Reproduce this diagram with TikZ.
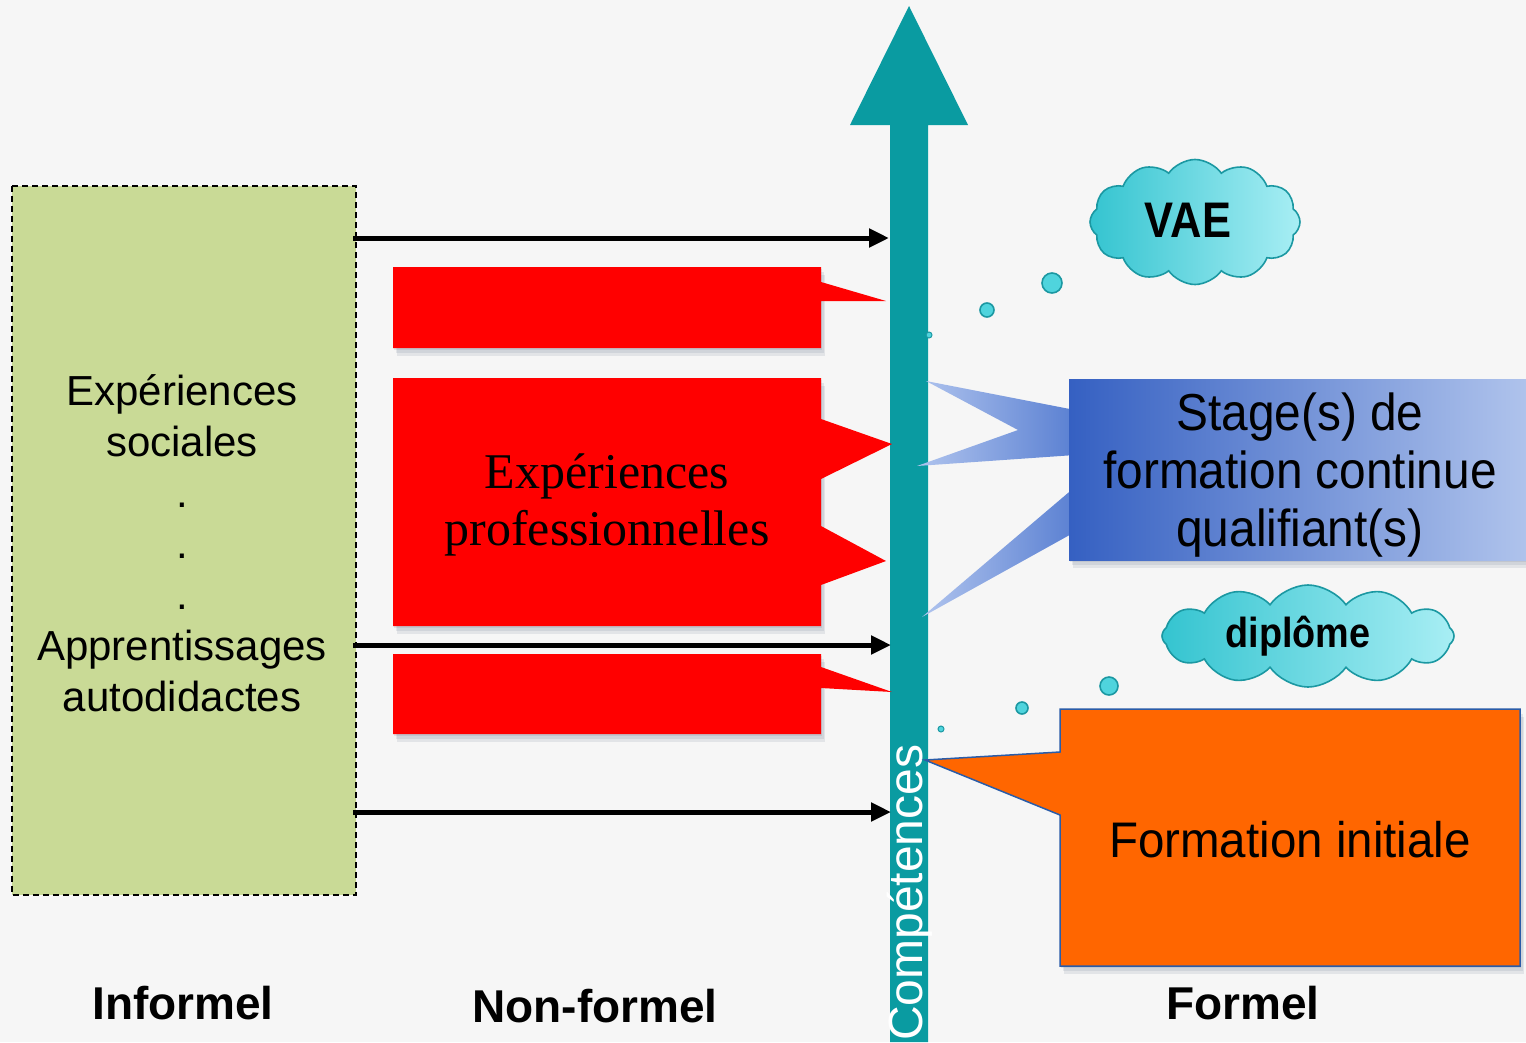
\documentclass[tikz,border=0pt]{standalone}
\usepackage{fontspec}
\setmainfont{Liberation Sans}
\newfontfamily\serifb{Liberation Serif}
\usetikzlibrary{arrows.meta,shapes.symbols}
\definecolor{bgc}{HTML}{F6F6F6}
\definecolor{tealc}{HTML}{0A9BA1}
\definecolor{greenc}{HTML}{C9DA96}
\definecolor{orangec}{HTML}{FF6600}
\definecolor{orangeb}{HTML}{2A5CA8}
\definecolor{blueL}{HTML}{3560C2}
\definecolor{blueR}{HTML}{AFC3EC}
\definecolor{ptrL}{HTML}{B0C4EE}
\definecolor{ptrR}{HTML}{5A80D2}
\definecolor{cloudL}{HTML}{34C4D0}
\definecolor{cloudR}{HTML}{A8EEF4}
\definecolor{cloudB}{HTML}{1B98A2}
\definecolor{bubc}{HTML}{4FD4DD}
\definecolor{shadc}{HTML}{3A4A6A}
\tikzset{
  blackarrow/.style={line width=5pt,-{Triangle[length=20pt,width=18pt]}},
  redbox/.style={fill=red},
  shadowbox/.style={fill=shadc,opacity=0.10},
  cloudnode/.style={cloud, cloud puffs=12, cloud puff arc=110, draw=cloudB, line width=1.6pt,
    left color=cloudL, right color=cloudR, inner sep=0pt},
  bubble/.style={fill=bubc, draw=cloudB, line width=1.6pt},
  bottomlabel/.style={font=\bfseries\fontsize{46}{46}\selectfont, inner sep=0pt},
}
\begin{document}
\begin{tikzpicture}[x=1pt,y=-1pt]
\fill[bgc] (0,0) rectangle (1526,1042);
\useasboundingbox (0,0) rectangle (1526,1042);

% informal box
\draw[fill=greenc, line width=1.5pt, dash pattern=on 6pt off 4pt] (12,186) rectangle (356,895);
\node[align=center, inner sep=0pt, font=\fontsize{42}{51}\selectfont] (inf) at (182,543)
  {Expériences\\sociales\\.\\.\\.\\Apprentissages\\autodidactes};

% shaft of competences
\fill[tealc] (890,1042) -- (890,125) -- (850,125) -- (909,6) -- (968,125) -- (928,125) -- (928,1042) -- cycle;
\node[rotate=90, anchor=west, text=white, inner sep=0pt, font=\fontsize{48}{48}\selectfont] (comp) at (910,1041) {Compétences};

% black arrows
\coordinate (a1s) at (353,238); \coordinate (a1e) at (889,238);
\coordinate (a2s) at (353,645); \coordinate (a2e) at (891,645);
\coordinate (a3s) at (353,812); \coordinate (a3e) at (891,812);
\draw[blackarrow] (a1s) -- (a1e);
\draw[blackarrow] (a2s) -- (a2e);
\draw[blackarrow] (a3s) -- (a3e);

% red callouts (soft shadows)
\foreach \d in {2,5,8}{
  \fill[shadowbox] (393+\d/2,267+\d) rectangle (821+\d/2,348+\d);
  \fill[shadowbox] (393+\d/2,378+\d) rectangle (821+\d/2,626+\d);
  \fill[shadowbox] (393+\d/2,654+\d) rectangle (821+\d/2,734+\d);
}
\fill[redbox] (393,267) -- (821,267) -- (821,282) -- (886,301) -- (821,301) -- (821,348) -- (393,348) -- cycle;
\fill[redbox] (393,378) -- (821,378) -- (821,419) -- (892,444) -- (821,479) -- (821,526) -- (886,561) -- (821,585) -- (821,626) -- (393,626) -- cycle;
\fill[redbox] (393,654) -- (821,654) -- (821,667) -- (892,692) -- (821,688) -- (821,734) -- (393,734) -- cycle;
\node[align=center, inner sep=0pt, font=\serifb\fontsize{50}{57}\selectfont] (pro) at (607,505)
  {Expériences\\professionnelles};

% blue callout
\shade[left color=ptrL, right color=ptrR] (926,381) -- (1075,410) -- (1075,455) -- (917,466) -- (1018,430) -- cycle;
\shade[left color=ptrL, right color=ptrR] (922,617) -- (1075,487) -- (1075,532) -- cycle;
\foreach \d in {2,5,8}{
  \fill[shadowbox] (1069+\d/2,379+\d) rectangle (1526,560+\d);
}
\shade[left color=blueL, right color=blueR] (1069,379) rectangle (1526,560);
\node[align=center, inner sep=0pt, xscale=0.92, font=\fontsize{52}{58}\selectfont] (stage) at (1300,475)
  {Stage(s) de\\formation continue\\qualifiant(s)};

% orange callout
\foreach \d in {2,5,8}{
  \fill[shadowbox] (1060+\d/2,709+\d) rectangle (1520+\d/2,966+\d);
}
\draw[fill=orangec, draw=orangeb, line width=1.5pt] (1060,709) -- (1520,709) -- (1520,966) -- (1060,966) -- (1060,815) -- (925,760) -- (1060,752) -- cycle;
\node[inner sep=0pt, xscale=0.95, font=\fontsize{50}{50}\selectfont] (finit) at (1290,840) {Formation initiale};

% clouds
\node[cloudnode, aspect=1.7, minimum width=210pt, minimum height=125pt] (vae) at (1195,222) {};
\node[font=\bfseries\fontsize{50}{50}\selectfont, xscale=0.87, inner sep=0pt] (vaet) at (1188,220) {VAE};
\node[cloudnode, aspect=2.9, minimum width=292pt, minimum height=102pt] (dip) at (1308,636) {};
\node[font=\bfseries\fontsize{42}{42}\selectfont, xscale=0.9, inner sep=0pt] (dipt) at (1298,636) {diplôme};

% bubbles
\draw[bubble] (1052,283) circle (10pt);
\draw[bubble] (987,310) circle (7pt);
\draw[bubble, line width=1pt] (929,335) circle (3pt);
\draw[bubble] (1109,686) circle (9pt);
\draw[bubble] (1022,708) circle (6pt);
\draw[bubble, line width=1pt] (941,729) circle (3pt);

% bottom labels
\node[bottomlabel] (l1) at (183,1003) {Informel};
\node[bottomlabel] (l2) at (595,1006) {Non-formel};
\node[bottomlabel] (l3) at (1243,1003) {Formel};
\end{tikzpicture}
\end{document}
